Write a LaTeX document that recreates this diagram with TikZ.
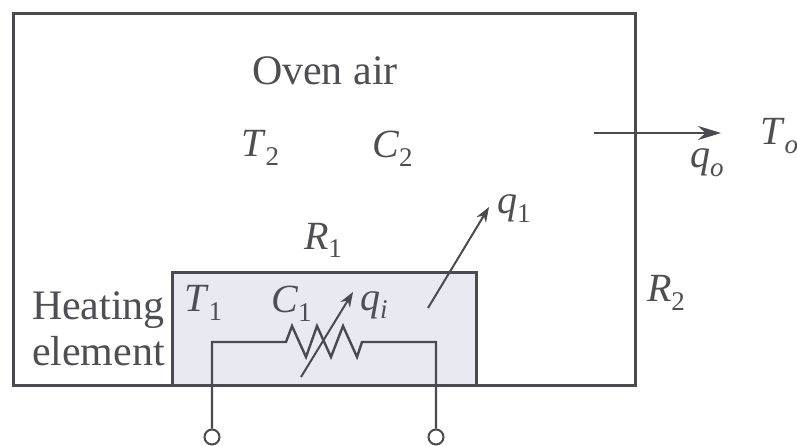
\documentclass[tikz,border=0pt]{standalone}
\usepackage{fontspec}
\setmainfont{Liberation Serif}
\usetikzlibrary{arrows.meta}
\definecolor{ink}{HTML}{4A4A50}
\definecolor{txt}{HTML}{4E4E55}
\definecolor{elem}{HTML}{E9E9F1}
\newcommand{\symb}[2]{\textit{#1}\raisebox{-9pt}{\fontsize{27}{27}\selectfont #2}}
\tikzset{
  wall/.style={draw=ink,line width=3pt},
  wire/.style={draw=ink,line width=2.4pt,line join=miter},
  flow/.style={draw=ink,line width=2pt},
  bighead/.style={-{Stealth[length=23pt,width=14pt]}},
  smallhead/.style={-{Stealth[length=15pt,width=11pt]}},
  lab/.style={anchor=base west,inner sep=0pt,outer sep=0pt,text=txt,font=\fontsize{40}{40}\selectfont},
  word/.style={lab,font=\fontsize{42}{42}\selectfont},
  term/.style={circle,draw=ink,line width=2pt,fill=white,minimum size=15pt,inner sep=0pt}
}
\begin{document}
\begin{tikzpicture}[x=1pt,y=-1pt]
\clip (0,0) rectangle (797,446);
\fill[white] (0,0) rectangle (797,446);
% heating element and oven
\draw[wall,fill=elem] (172,385) -- (172,272) -- (476,272) -- (476,385);
\draw[wall] (13,14) rectangle (635,385);
% terminals
\node[term] (tl) at (212,437) {};
\node[term] (tr) at (436,437) {};
% resistor
\coordinate (r1) at (286,342);
\coordinate (r2) at (362,342);
\draw[wire] (tl.north) |- (r1) -- (292,326) -- (306,357) -- (317,326) -- (331,357) -- (343,326) -- (357,357) -- (r2) -| (tr.north);
% flows
\coordinate (qia) at (301,377); \coordinate (qib) at (353,292);
\draw[flow,smallhead] (qia) -- (qib);
\coordinate (q1a) at (428,308); \coordinate (q1b) at (489,207);
\draw[flow,smallhead] (q1a) -- (q1b);
\coordinate (qoa) at (594,133); \coordinate (qob) at (721,133);
\draw[flow,line width=2.6pt,bighead] (qoa) -- (qob);
% labels
\node[word] (oven) at (252,85) {Oven air};
\node[lab] (t2) at (241,157) {\symb{T}{2}};
\node[lab] (c2) at (372,158) {\symb{C}{2}};
\node[lab] (r1l) at (304,249) {\symb{R}{1}};
\node[lab] (q1l) at (497,214) {\symb{q}{1}};
\node[lab] (r2l) at (647,301) {\symb{R}{2}};
\node[lab] (qol) at (690,168) {\textit{q}\raisebox{-9pt}{\fontsize{27}{27}\selectfont\itshape o}};
\node[lab] (tol) at (760,145) {\textit{T}\raisebox{-9pt}{\fontsize{27}{27}\selectfont\itshape o}};
\node[word] (heat) at (32,319) {Heating};
\node[word] (el) at (32,365) {element};
\node[lab] (t1) at (184,311) {\symb{T}{1}};
\node[lab] (c1) at (271,312) {\symb{C}{1}};
\node[lab] (qil) at (360,310) {\textit{q}\raisebox{-8pt}{\fontsize{27}{27}\selectfont\itshape i}};
\end{tikzpicture}
\end{document}
